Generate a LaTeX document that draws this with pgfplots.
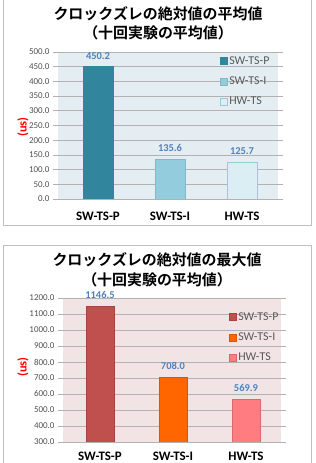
\documentclass[border=0pt]{standalone}
\usepackage{fontspec}
\setmainfont{Carlito}
\newfontfamily\jp[BoldFont={Noto Sans CJK JP Bold}]{Noto Sans CJK JP}
\usepackage{pgfplots}
\pgfplotsset{compat=1.18}
\definecolor{tpA}{HTML}{31859C}
\definecolor{tpB}{HTML}{93CDDD}
\definecolor{tpC}{HTML}{DBEEF4}
\definecolor{btA}{HTML}{C0504D}
\definecolor{btB}{HTML}{FF6600}
\definecolor{btC}{HTML}{FF7C80}
\definecolor{bgTop}{HTML}{E3EDF2}
\definecolor{bgBot}{HTML}{F2E4E4}
\definecolor{lbl}{HTML}{4F81BD}
\definecolor{tick}{HTML}{505050}
\definecolor{frm}{HTML}{BFBFBF}
\pgfplotsset{
  common/.style={
    ybar, scale only axis,
    xtick={0,1,2}, xticklabels={SW-TS-P,SW-TS-I,HW-TS},
    axis line style={draw=none},
    ymajorgrids, grid style={draw=black!30, line width=0.6bp},
    tick align=outside,
    major tick length=5bp,
    xtick style={draw=none},
    ytick style={draw=black!30, line width=0.6bp},
    yticklabel style={font=\fontsize{9}{9}\selectfont, text=tick},
    xticklabel style={font=\fontsize{13}{13}\selectfont\bfseries, text=black},
    /pgf/number format/assume math mode=true,
    /pgf/number format/.cd, fixed, fixed zerofill, precision=1, 1000 sep={},
    /pgfplots/.cd,
    nodes near coords,
    nodes near coords style={font=\fontsize{10.5}{10.5}\selectfont\bfseries, text=lbl, yshift=4bp,
      /pgf/number format/.cd, fixed, fixed zerofill, precision=1, 1000 sep={}},
    legend cell align=left,
    legend style={draw=none, fill=none, font=\fontsize{12}{12}\selectfont, text=black!65,
      row sep=7bp, anchor=north west, inner sep=0pt},
    legend image code/.code={\fill[##1] (0bp,-3.5bp) rectangle (7bp,3.5bp);},
  }
}
\begin{document}
\begin{tikzpicture}[x=1bp,y=1bp]
\useasboundingbox (0,0) rectangle (315,463);
% frames
\draw[frm, line width=0.8bp] (3,238) rectangle (311,466);
\draw[frm, line width=0.8bp] (3,-3) rectangle (311,218);
% top chart
\fill[bgTop] (58,264) rectangle (278,411);
\node[font=\jp\bfseries\fontsize{15}{15}\selectfont] at (158,449) {クロックズレの絶対値の平均値};
\node[font=\jp\bfseries\fontsize{15}{15}\selectfont] at (158,430) {（十回実験の平均値）};
\node[rotate=90, text=red, font=\fontsize{12.5}{12.5}\selectfont\bfseries] at (23,336) {(us)};
\begin{axis}[common, at={(58bp,264bp)}, anchor=south west,
  width=220bp, height=147bp,
  xmin=-0.556, xmax=2.5, ymin=0, ymax=500, ytick={0,50,...,500},
  bar width=30bp,
  xticklabel style={yshift=-4bp},
  legend style={at={(rel axis cs:0.735,0.985)}},
]
\addplot[fill=tpA, draw=tpA, bar shift=0pt] coordinates {(0,450.2)};
\addplot[fill=tpB, draw=tpB!90!black, bar shift=0pt] coordinates {(1,135.6)};
\addplot[fill=tpC, draw=tpB, bar shift=0pt] coordinates {(2,125.7)};
\legend{SW-TS-P,SW-TS-I,HW-TS}
\end{axis}
% bottom chart
\fill[bgBot] (63,21) rectangle (281,165);
\node[font=\jp\bfseries\fontsize{15}{15}\selectfont] at (157,203) {クロックズレの絶対値の最大値};
\node[font=\jp\bfseries\fontsize{15}{15}\selectfont] at (157,183) {（十回実験の平均値）};
\node[rotate=90, text=red, font=\fontsize{12.5}{12.5}\selectfont\bfseries] at (23,96) {(us)};
\begin{axis}[common, at={(63bp,21bp)}, anchor=south west,
  width=218bp, height=144bp,
  xmin=-0.507, xmax=2.48, ymin=300, ymax=1200, ytick={300,400,...,1200},
  bar width=28bp,
  xticklabel style={yshift=-1.5bp},
  legend style={at={(rel axis cs:0.76,0.915)}},
]
\addplot[fill=btA, draw=btA!85!black, bar shift=0pt] coordinates {(0,1146.5)};
\addplot[fill=btB, draw=btB!85!black, bar shift=0pt] coordinates {(1,708.0)};
\addplot[fill=btC, draw=btC!85!black, bar shift=0pt] coordinates {(2,569.9)};
\legend{SW-TS-P,SW-TS-I,HW-TS}
\end{axis}
\end{tikzpicture}
\end{document}
